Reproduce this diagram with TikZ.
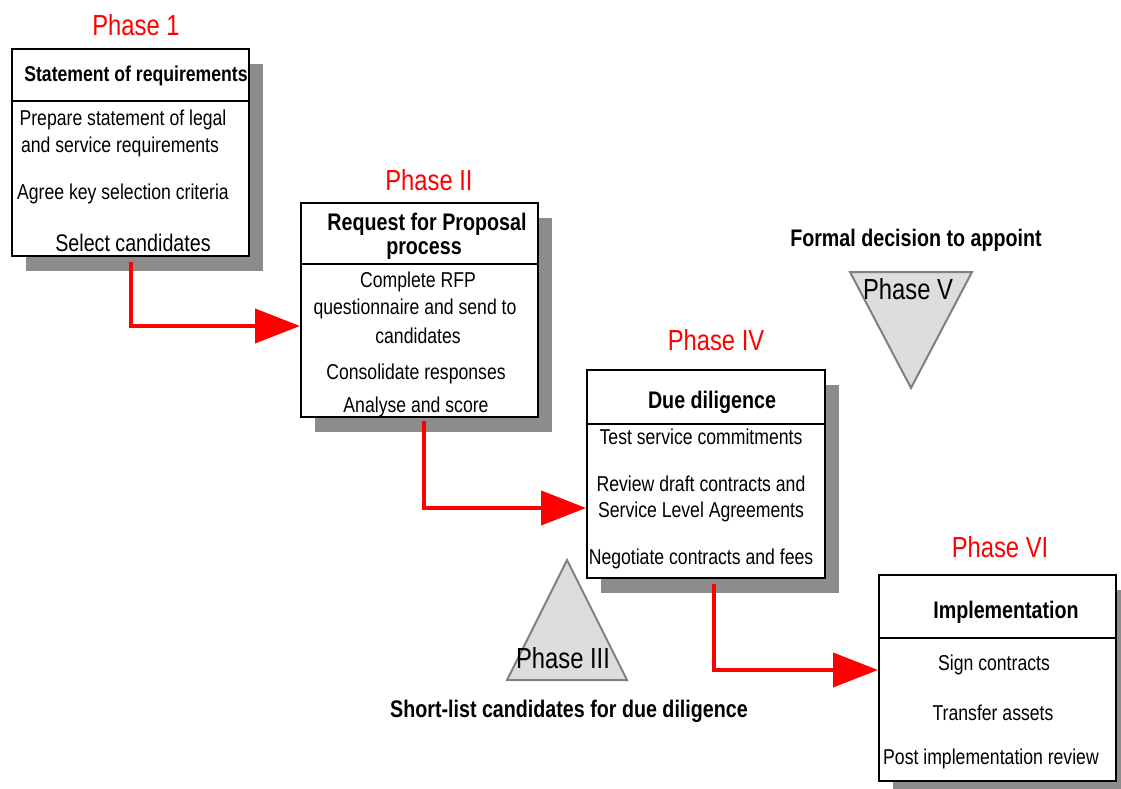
\documentclass[tikz,border=0pt]{standalone}
\usepackage{fontspec}
\setmainfont[FakeStretch=0.82]{Liberation Sans}
\usetikzlibrary{arrows.meta,calc,shadows}
\definecolor{shadowgray}{HTML}{8C8C8C}
\definecolor{trifill}{HTML}{DDDDDD}
\definecolor{triline}{HTML}{808080}
\begin{document}
\begin{tikzpicture}[x=1pt,y=-1pt,
  box/.style={draw=black, line width=2pt, fill=white, inner sep=0pt,
    drop shadow={shadow xshift=14pt, shadow yshift=-15pt, fill=shadowgray, opacity=1}},
  divider/.style={draw=black, line width=2pt},
  phase/.style={text=red, inner sep=0pt, font=\fontsize{29}{34}\selectfont},
  body/.style={inner sep=0pt, yshift=-2pt, font=\fontsize{21.5}{26}\selectfont},
  bighead/.style={inner sep=0pt, yshift=-2pt, font=\bfseries\fontsize{24}{28}\selectfont},
  smallhead/.style={inner sep=0pt, yshift=-2pt, font=\bfseries\fontsize{21.5}{26}\selectfont},
  conn/.style={draw=red, line width=4pt, -{Triangle[length=45pt,width=34pt]}},
  tri/.style={draw=triline, fill=trifill, line width=2pt, line join=miter},
  trilabel/.style={inner sep=0pt, font=\fontsize{29}{34}\selectfont}
]
\path[use as bounding box, clip] (0,0) rectangle (1121,789);

% Phase 1
\node[phase] (p1) at (136,25) {Phase 1};
\node[box, minimum width=237pt, minimum height=207pt] (b1) at (130.5,152.5) {};
\draw[divider] (b1.west |- 0,101) -- (b1.east |- 0,101);
\node[smallhead] (b1h) at (136,74) {Statement of requirements};
\node[body] (b1t1) at (123,118) {Prepare statement of legal};
\node[body] (b1t2) at (120,145) {and service requirements};
\node[body] (b1t3) at (123,192) {Agree key selection criteria};
\node[body, font=\fontsize{24}{28}\selectfont] (b1t4) at (133,241) {Select candidates};

% Phase II
\node[phase] (p2) at (429,180) {Phase II};
\node[box, minimum width=237pt, minimum height=214pt] (b2) at (419.5,310) {};
\draw[divider] (b2.west |- 0,264) -- (b2.east |- 0,264);
\node[bighead] (b2h1) at (427,222) {Request for Proposal};
\node[bighead] (b2h2) at (424,249) {process};
\node[body] (b2t1) at (418,280) {Complete RFP};
\node[body] (b2t2) at (415,307) {questionnaire and send to};
\node[body] (b2t3) at (418,334) {candidates};
\node[body] (b2t4) at (416,372) {Consolidate responses};
\node[body] (b2t5) at (416,405) {Analyse and score};

% Phase IV
\node[phase] (p4) at (716,340) {Phase IV};
\node[box, minimum width=238pt, minimum height=208pt] (b4) at (706,474) {};
\draw[divider] (b4.west |- 0,424) -- (b4.east |- 0,424);
\node[bighead] (b4h) at (712,400) {Due diligence};
\node[body] (b4t1) at (701,435) {Test service commitments};
\node[body] (b4t2) at (701,482) {Review draft contracts and};
\node[body] (b4t3) at (701,510) {Service Level Agreements};
\node[body] (b4t4) at (701,557) {Negotiate contracts and fees};

% Phase VI
\node[phase] (p6) at (1000,547) {Phase VI};
\node[box, minimum width=237pt, minimum height=206pt] (b6) at (997.5,678) {};
\draw[divider] (b6.west |- 0,638) -- (b6.east |- 0,638);
\node[bighead] (b6h) at (1006,610) {Implementation};
\node[body] (b6t1) at (994,663) {Sign contracts};
\node[body] (b6t2) at (993,711) {Transfer assets};
\node[body] (b6t3) at (991,757) {Post implementation review};

% Phase III triangle
\draw[tri] (567,560) -- (627,680) -- (507,680) -- cycle;
\node[trilabel] (p3) at (563,658) {Phase III};
\node[bighead] (p3d) at (569,709) {Short-list candidates for due diligence};

% Phase V triangle
\draw[tri] (850,272) -- (972,272) -- (911,388) -- cycle;
\node[trilabel] (p5) at (908,289) {Phase V};
\node[bighead] (p5d) at (916,238) {Formal decision to appoint};

% connectors
\coordinate (a1s) at (131,262);
\coordinate (a2s) at (424,421);
\coordinate (a3s) at (714,584);
\draw[conn] (a1s) |- ($(b2.west)+(0,16)$);
\draw[conn] (a2s) |- ($(b4.west)+(0,34)$);
\draw[conn] (a3s) |- ($(b6.west)+(0,-8)$);
\end{tikzpicture}
\end{document}
